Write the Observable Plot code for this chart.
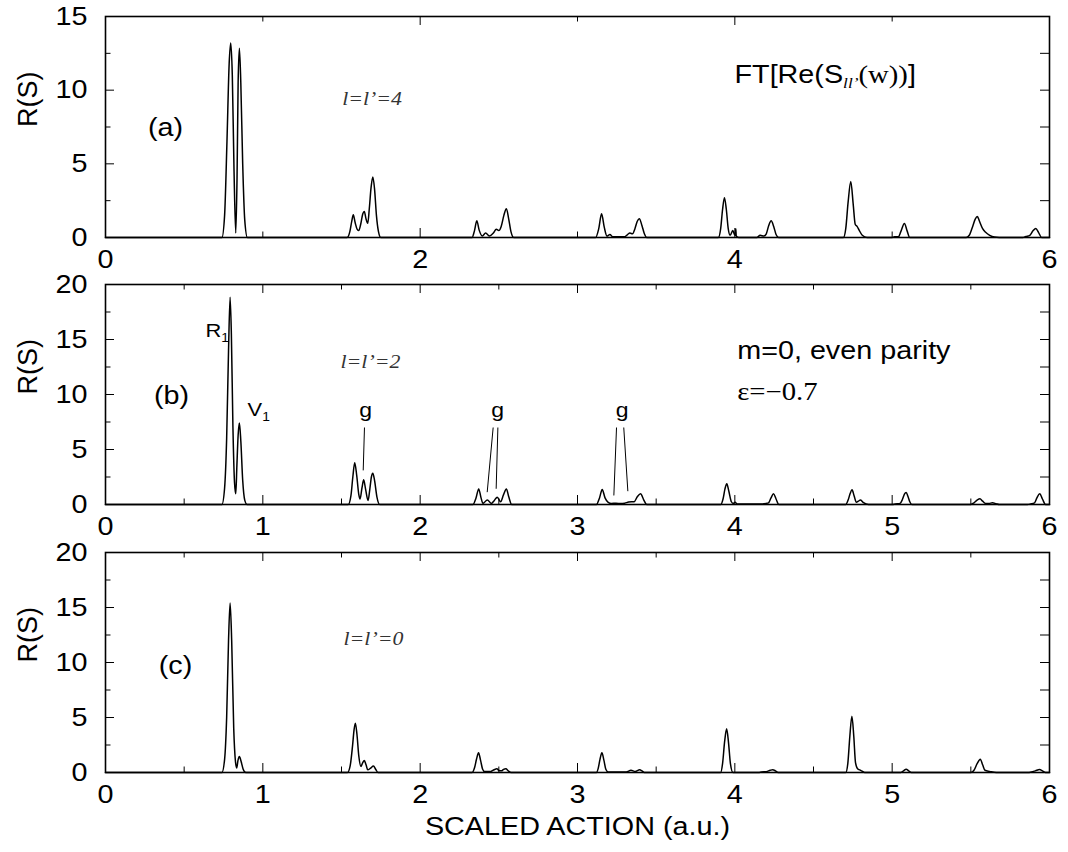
<!DOCTYPE html>
<html><head><meta charset="utf-8">
<script src="https://cdn.jsdelivr.net/npm/d3@7"></script>
<script src="https://cdn.jsdelivr.net/npm/@observablehq/plot@0.6"></script>
<style>
body{margin:0;background:#fff;}
#wrap{position:relative;width:1068px;height:852px;overflow:hidden;background:#fff}
#wrap svg{position:absolute;left:0;}
</style></head><body><div id="wrap"></div>
<script>
// ---------- data: [scaled action, R(S)] ----------
const seriesA = [
[0,0],
[0.74,0],[0.757,1.5],[0.772,6.5],[0.786,11.8],[0.796,13.2],[0.806,11],[0.817,4.5],[0.828,0.3],
[0.836,4],[0.843,10.5],[0.851,12.85],[0.86,10.5],[0.872,5],[0.885,1.2],[0.902,0],
[1.535,0],[1.553,0.4],[1.565,1.1],[1.575,1.54],[1.587,1.0],[1.6,0.55],[1.61,0.47],[1.622,0.9],[1.635,1.6],[1.645,1.77],[1.655,1.3],[1.667,0.97],[1.677,2.0],[1.688,3.4],[1.699,4.1],[1.71,3.3],[1.722,1.5],[1.735,0.4],[1.75,0],
[2.33,0],[2.345,0.45],[2.36,1.13],[2.375,0.5],[2.395,0.1],[2.416,0.3],[2.44,0.1],[2.465,0.3],[2.484,0.56],[2.5,0.47],[2.515,0.75],[2.532,1.5],[2.548,1.95],[2.562,1.3],[2.577,0.4],[2.595,0],
[3.115,0],[3.135,0.6],[3.153,1.61],[3.17,0.7],[3.187,0.1],[3.206,0.2],[3.225,0.05],[3.3,0.05],[3.318,0.2],[3.333,0.3],[3.35,0.25],[3.365,0.6],[3.38,1.1],[3.393,1.27],[3.41,0.8],[3.425,0.25],[3.44,0],
[3.895,0],[3.91,0.6],[3.922,1.9],[3.934,2.7],[3.946,1.9],[3.958,0.6],[3.97,0.15],[3.987,0.47],[3.998,0.2],[4.003,0.15],[4.006,0.6],[4.009,0.1],[4.025,0],
[4.14,0],[4.161,0.15],[4.185,0.1],[4.2,0.25],[4.215,0.8],[4.231,1.13],[4.247,0.75],[4.262,0.2],[4.278,0],
[4.69,0],[4.705,0.6],[4.72,2.4],[4.737,3.8],[4.752,2.3],[4.765,0.9],[4.777,0.75],[4.79,0.5],[4.81,0.15],[4.84,0],
[5.0,0],[5.015,0.05],[5.04,0.05],[5.055,0.4],[5.078,0.95],[5.095,0.45],[5.112,0],
[5.47,0],[5.49,0.15],[5.51,0.7],[5.528,1.25],[5.541,1.43],[5.555,1.1],[5.575,0.6],[5.594,0.35],[5.62,0.15],[5.65,0.03],[5.68,0],
[5.83,0],[5.85,0.07],[5.875,0.15],[5.895,0.45],[5.913,0.61],[5.93,0.35],[5.95,0],[6,0]
];
const seriesB = [
[0,0],
[0.74,0],[0.757,1.5],[0.77,6],[0.782,14],[0.792,18.85],[0.8,15.5],[0.81,7],[0.82,2],[0.828,0.97],[0.835,3.5],[0.843,6.3],[0.851,7.4],[0.86,5.8],[0.872,2.2],[0.885,0.4],[0.9,0],
[1.543,0],[1.56,0.8],[1.572,2.5],[1.584,3.79],[1.597,2.6],[1.61,0.9],[1.618,0.5],[1.63,1.5],[1.641,2.24],[1.653,1.4],[1.669,0.36],[1.68,1.4],[1.69,2.5],[1.699,2.85],[1.71,2.2],[1.725,0.7],[1.743,0],
[2.335,0],[2.355,0.6],[2.372,1.42],[2.387,0.6],[2.399,0.1],[2.427,0.42],[2.452,0.1],[2.47,0.35],[2.49,0.67],[2.511,0.25],[2.53,0.9],[2.548,1.42],[2.563,0.7],[2.582,0],
[3.12,0],[3.14,0.6],[3.157,1.36],[3.175,0.6],[3.195,0.2],[3.215,0.1],[3.245,0.12],[3.275,0.08],[3.3,0.12],[3.325,0.22],[3.344,0.25],[3.36,0.25],[3.38,0.7],[3.401,0.97],[3.42,0.45],[3.44,0],
[3.91,0],[3.925,0.5],[3.937,1.4],[3.949,1.88],[3.962,1.2],[3.978,0.25],[3.99,0.1],[4.002,0.2],[4.015,0.05],[4.17,0.05],[4.2,0.1],[4.214,0.15],[4.23,0.6],[4.246,0.97],[4.262,0.5],[4.28,0],
[4.705,0],[4.72,0.4],[4.733,1.0],[4.745,1.33],[4.758,0.8],[4.772,0.2],[4.785,0.3],[4.798,0.4],[4.815,0.2],[4.85,0],
[5.0,0],[5.02,0.05],[5.05,0.1],[5.065,0.45],[5.078,0.95],[5.089,1.09],[5.1,0.75],[5.112,0.25],[5.125,0],
[5.5,0],[5.52,0.15],[5.54,0.4],[5.558,0.52],[5.575,0.3],[5.594,0.1],[5.615,0.1],[5.637,0.15],[5.66,0.08],[5.68,0],
[5.86,0],[5.88,0.05],[5.905,0.15],[5.92,0.6],[5.938,0.97],[5.955,0.5],[5.975,0],[6,0]
];
const seriesC = [
[0,0],
[0.74,0],[0.757,1.2],[0.77,5],[0.782,12],[0.792,15.4],[0.802,12],[0.815,4],[0.826,1],[0.834,0.42],[0.842,1.1],[0.851,1.45],[0.862,1.0],[0.875,0.3],[0.892,0],
[1.538,0],[1.555,0.6],[1.57,2.4],[1.58,3.9],[1.588,4.48],[1.598,3.5],[1.61,1.5],[1.624,0.55],[1.635,0.9],[1.645,1.09],[1.656,0.7],[1.667,0.24],[1.685,0.4],[1.703,0.6],[1.717,0.3],[1.732,0],
[2.33,0],[2.345,0.4],[2.358,1.2],[2.371,1.79],[2.384,1.1],[2.397,0.3],[2.41,0.08],[2.45,0.1],[2.47,0.25],[2.487,0.33],[2.505,0.15],[2.517,0.15],[2.53,0.28],[2.545,0.33],[2.56,0.15],[2.578,0],
[3.12,0],[3.132,0.4],[3.143,1.2],[3.155,1.79],[3.168,1.1],[3.18,0.3],[3.195,0.05],[3.31,0.05],[3.34,0.2],[3.367,0.1],[3.395,0.25],[3.41,0.15],[3.425,0],
[3.91,0],[3.922,0.8],[3.935,2.8],[3.948,3.97],[3.96,2.7],[3.972,0.8],[3.988,0],
[4.15,0],[4.17,0.05],[4.2,0.08],[4.225,0.2],[4.241,0.25],[4.258,0.15],[4.275,0],
[4.705,0],[4.718,0.8],[4.731,3.3],[4.744,5.12],[4.756,3.3],[4.767,0.9],[4.78,0.35],[4.8,0.2],[4.825,0],
[5.055,0],[5.072,0.15],[5.089,0.3],[5.105,0.15],[5.122,0],
[5.5,0],[5.52,0.2],[5.54,0.8],[5.56,1.21],[5.575,0.7],[5.59,0.2],[5.62,0.1],[5.662,0],
[5.86,0],[5.885,0.05],[5.91,0.15],[5.937,0.27],[5.955,0.15],[5.975,0],[6,0]
];

// tick labels / tick values
const xLabelsA = [0,2,4,6];
const xMajorA = [2,4];
const xMinorA = [1,3,5];
const xLabelsBC = [0,1,2,3,4,5,6];
const xMajorBC = [1,2,3,4,5];
const xMinorBC = [0.5,1.5,2.5,3.5,4.5,5.5];
const yLabelsA = [0,5,10,15];
const yMajorA = [5,10];
const yMinorA = [2.5,7.5,12.5];
const yLabelsBC = [0,5,10,15,20];
const yMajorBC = [5,10,15];
const yMinorBC = [2.5,7.5,12.5,17.5];

// annotations (data space)
const gLabels = [{x:1.653,y:8.5},{x:2.492,y:8.5},{x:3.284,y:8.5}];
const gLeaders = [
  {x1:1.646,y1:7.0,x2:1.638,y2:3.1},
  {x1:2.464,y1:7.0,x2:2.426,y2:1.12},
  {x1:2.494,y1:7.0,x2:2.483,y2:1.43},
  {x1:3.248,y1:7.0,x2:3.231,y2:0.82},
  {x1:3.294,y1:7.0,x2:3.32,y2:1.21}
];

const SANS = "Liberation Sans, Arial, Helvetica, sans-serif";
const SERIF = "Liberation Serif, Times New Roman, serif";
const W = 1068, ML = 105, MR = 19;

function panel(o) {
  const ih = o.height - o.mt - o.mb, iw = W - ML - MR;
  const marks = [
    Plot.line(o.data, {x: d => d[0], y: d => d[1], stroke: "#000", strokeWidth: 1.5, curve: "monotone-x"}),
    // x ticks bottom & top
    Plot.tickX(o.xMajor, {x: d => d, stroke: "#000", strokeWidth: 1, insetTop: ih - 9}),
    Plot.tickX(o.xMajor, {x: d => d, stroke: "#000", strokeWidth: 1, insetBottom: ih - 9}),
    Plot.tickX(o.xMinor, {x: d => d, stroke: "#000", strokeWidth: 1, insetTop: ih - 5.5}),
    Plot.tickX(o.xMinor, {x: d => d, stroke: "#000", strokeWidth: 1, insetBottom: ih - 5.5}),
    // y ticks left & right
    Plot.tickY(o.yMajor, {y: d => d, stroke: "#000", strokeWidth: 1, insetRight: iw - 9}),
    Plot.tickY(o.yMinor, {y: d => d, stroke: "#000", strokeWidth: 1, insetRight: iw - 5.5}),
    Plot.tickY(o.yMajor.concat(o.yMinor), {y: d => d, stroke: "#000", strokeWidth: 1, insetLeft: iw - 9}),
    Plot.frame({stroke: "#000", strokeWidth: 1.6}),
    Plot.text(o.xLabels, {x: d => d, text: d => String(d), frameAnchor: "bottom", lineAnchor: "top", dy: 13, fontSize: 25, fontFamily: SANS}),
    Plot.text(o.yLabels, {y: d => d, text: d => String(d), frameAnchor: "left", textAnchor: "end", dx: -18, fontSize: 25, fontFamily: SANS}),
    Plot.text(["R(S)"], {text: d => d, frameAnchor: "left", dx: -77, rotate: -90, fontSize: 27, fontFamily: SANS}),
    ...o.extra
  ];
  const svg = Plot.plot({
    width: W, height: o.height,
    marginLeft: ML, marginRight: MR, marginTop: o.mt, marginBottom: o.mb,
    x: {domain: [0, 6], axis: null},
    y: {domain: [0, o.ymax], axis: null},
    style: {fontFamily: SANS, color: "#000", background: "transparent", overflow: "visible"},
    marks
  });
  svg.style.top = o.top + "px";
  return svg;
}

const wrap = document.getElementById("wrap");

wrap.appendChild(panel({
  data: seriesA, top: 0, height: 270, mt: 16, mb: 33, ymax: 15,
  xLabels: xLabelsA, xMajor: xMajorA, xMinor: xMinorA,
  yLabels: yLabelsA, yMajor: yMajorA, yMinor: yMinorA,
  extra: [
    Plot.text(["(a)"], {x: 0.381, y: 7.4, text: d => d, fontSize: 25, fontFamily: SANS}),
    Plot.text(["l=l\u2019=4"], {x: 1.504, y: 9.4, text: d => d, textAnchor: "start", fontSize: 19, fontFamily: SERIF, fontStyle: "italic", fill: "#333"}),
    Plot.text(["@@FT@@"], {x: 3.998, y: 11.0, text: d => d, textAnchor: "start", fontSize: 25, fontFamily: SANS})
  ]
}));

wrap.appendChild(panel({
  data: seriesB, top: 270, height: 268, mt: 14, mb: 34, ymax: 20,
  xLabels: xLabelsBC, xMajor: xMajorBC, xMinor: xMinorBC,
  yLabels: yLabelsBC, yMajor: yMajorBC, yMinor: yMinorBC,
  extra: [
    Plot.text(["(b)"], {x: 0.42, y: 9.9, text: d => d, fontSize: 25, fontFamily: SANS}),
    Plot.text(["@@R1@@"], {x: 0.636, y: 15.8, text: d => d, textAnchor: "start", fontSize: 19, fontFamily: SANS}),
    Plot.text(["@@V1@@"], {x: 0.903, y: 8.6, text: d => d, textAnchor: "start", fontSize: 19, fontFamily: SANS}),
    Plot.text(["l=l\u2019=2"], {x: 1.494, y: 13.0, text: d => d, textAnchor: "start", fontSize: 19, fontFamily: SERIF, fontStyle: "italic", fill: "#333"}),
    Plot.text(["m=0, even parity"], {x: 4.015, y: 14.0, text: d => d, textAnchor: "start", fontSize: 25, fontFamily: SANS}),
    Plot.text(["\u03b5=\u22120.7"], {x: 4.015, y: 10.2, text: d => d, textAnchor: "start", fontSize: 25, fontFamily: SERIF}),
    Plot.text(gLabels, {x: "x", y: "y", text: () => "g", fontSize: 20, fontFamily: SANS}),
    Plot.link(gLeaders, {x1: "x1", y1: "y1", x2: "x2", y2: "y2", stroke: "#000", strokeWidth: 1})
  ]
}));

wrap.appendChild(panel({
  data: seriesC, top: 538, height: 314, mt: 14, mb: 80, ymax: 20,
  xLabels: xLabelsBC, xMajor: xMajorBC, xMinor: xMinorBC,
  yLabels: yLabelsBC, yMajor: yMajorBC, yMinor: yMinorBC,
  extra: [
    Plot.text(["(c)"], {x: 0.445, y: 9.7, text: d => d, fontSize: 25, fontFamily: SANS}),
    Plot.text(["l=l\u2019=0"], {x: 1.513, y: 12.1, text: d => d, textAnchor: "start", fontSize: 19, fontFamily: SERIF, fontStyle: "italic", fill: "#333"}),
    Plot.text(["SCALED ACTION (a.u.)"], {text: d => d, frameAnchor: "bottom", lineAnchor: "middle", dy: 54, fontSize: 25, fontFamily: SANS})
  ]
}));

// rich-text labels (subscripts)
function rich(t, parts) {
  const s = d3.select(t);
  s.text(null);
  parts.forEach(p => {
    const ts = s.append("tspan").text(p.t);
    if (p.ff) ts.attr("font-family", p.ff);
    if (p.fs) ts.attr("font-size", p.fs);
    if (p.st) ts.attr("font-style", p.st);
    if (p.dy) ts.attr("dy", p.dy);
  });
}
document.querySelectorAll("#wrap svg text").forEach(t => {
  const c = t.textContent;
  if (c === "@@FT@@") rich(t, [
    {t: "FT[Re(S", ff: SANS},
    {t: "ll\u2019", ff: SERIF, st: "italic", fs: 15, dy: 5},
    {t: "(w))", ff: SERIF, dy: -5},
    {t: "]", ff: SANS}
  ]);
  else if (c === "@@R1@@") rich(t, [{t: "R"}, {t: "1", fs: 12, dy: 5}]);
  else if (c === "@@V1@@") rich(t, [{t: "V"}, {t: "1", fs: 12, dy: 5}]);
});

// the original figure is stretched horizontally (~1.15x) — stretch horizontal texts
document.querySelectorAll("#wrap svg text").forEach(t => {
  const tr = t.getAttribute("transform") || "";
  if (tr.includes("rotate")) return;
  const L = t.getComputedTextLength();
  if (L > 0) {
    t.setAttribute("textLength", (L * 1.15).toFixed(1));
    t.setAttribute("lengthAdjust", "spacingAndGlyphs");
  }
});
</script></body></html>
